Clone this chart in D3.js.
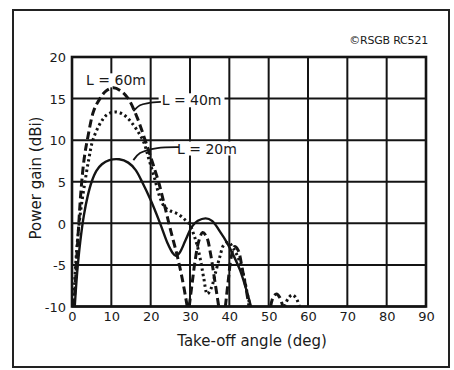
<!DOCTYPE html>
<html>
<head>
<meta charset="utf-8">
<script src="https://cdn.jsdelivr.net/npm/d3@7/dist/d3.min.js"></script>
<style>
  html, body { margin: 0; padding: 0; background: #fff; }
  svg { display: block; }
  text { font-family: "DejaVu Sans", sans-serif; fill: #1a1a1a; }
</style>
</head>
<body>
<svg id="chart" width="454" height="370"></svg>
<script>
// ---- data ----
const xTicks = [0, 10, 20, 30, 40, 50, 60, 70, 80, 90];
const yTicks = [-10, -5, 0, 5, 10, 15, 20];

// [take-off angle (deg), power gain (dBi)], null separates lobes
const gain20m = [
  [0.7,-10],[1.3,-6],[2.1,-2.2],[3,0.9],[4,3.3],[5,5],[6.2,6.3],[7.6,7.1],[9.5,7.6],[12,7.7],
  [14.3,7.3],[16.2,6.4],[17.8,5],[20,2.8],[22.4,0],[24.3,-2.4],[25.5,-3.5],[26.4,-3.9],
  [27.4,-3.5],[28.8,-2.1],[30.5,-0.4],[32,0.3],[34,0.6],[35.6,0.3],[37.5,-0.9],
  [39.5,-2.4],[41,-3.8],[42.7,-5.6],[44.2,-7.8],[45.5,-10]
];
const gain40m = [
  [0.4,-10],[0.8,-6],[1.4,-2],[2.2,1.5],[3.3,5],[4.3,7.8],[5.3,10],[7.4,12.2],[9,13.1],
  [11,13.4],[13,13.1],[15,12.2],[16.8,11],[18.2,9.8],[19.5,7.8],[21,5.4],[22.3,3.2],
  [23.5,2],[25,1.5],[27,1.1],[28.8,0.4],[30,-0.2],[31,-1.4],[31.8,-2.6],[32.7,-4.5],
  [33.5,-6.6],[34.4,-8.5],[35.4,-7.8],[36.5,-5.9],[37.6,-4],[38.6,-2.6],[39.8,-2.3],
  [41,-3],[42.3,-4.2],[43.5,-6],[44.6,-8.5],[45.3,-10],
  null,
  [54,-10],[55,-9],[56,-8.6],[57,-9],[57.8,-10]
];
const gain60m = [
  [0.5,-10],[1,-6],[1.6,-1],[2.3,4],[3.1,7.8],[4,10.3],[5.5,13.5],[7.1,15],[8.6,15.9],
  [10.5,16.3],[12.5,15.9],[14.3,15],[16.5,12.8],[18.6,10],[20.4,7.4],[22,5],[23.3,2.6],
  [25,-0.7],[26.7,-3.8],[28,-6.6],[29.3,-10],
  null,
  [29.8,-10],[30.6,-7],[31.3,-4.5],[32.2,-2.2],[33.2,-1.1],[34.2,-1.6],[35.2,-3.6],
  [36.2,-6.6],[37.3,-10],
  null,
  [39,-10],[39.7,-7],[40.5,-4],[41.3,-2.8],[42.2,-3.2],[43.3,-5.5],[44.3,-8],[45,-10],
  null,
  [50.5,-10],[51.2,-8.8],[52,-8.5],[52.8,-8.9],[53.6,-10]
];

const seriesLabels = ["L = 20m", "L = 40m", "L = 60m"];
// label anchor points [deg, dBi] (centre of text)
const labelPos = [[34.3, 9.0], [30.4, 14.8], [11.2, 17.2]];
// leader lines from label to its curve [deg, dBi]
const leader20 = [[27.2, 9.17], [21.7, 9.05], [17.3, 8.45], [15.6, 7.6]];
const leader40 = [[22.6, 14.6], [19.4, 14.46], [17.3, 14.2], [15.6, 13.5]];

const xTitle = "Take-off angle (deg)";
const yTitle = "Power gain (dBi)";
const credit = "\u00A9RSGB RC521";

// ---- drawing ----
const svg = d3.select("#chart");
const x = d3.scaleLinear().domain([0, 90]).range([72, 426]);
const y = d3.scaleLinear().domain([-10, 20]).range([306.5, 57]);
const ink = "#141414";

const gFrame = svg.append("g");
const gGrid = svg.append("g");
const gAxes = svg.append("g");
const gBoxes = svg.append("g");
const gCurves = svg.append("g");
const gLabels = svg.append("g");

// outer frame
gFrame.append("rect").attr("x", 13).attr("y", 10).attr("width", 436).attr("height", 357)
  .attr("fill", "none").attr("stroke", "#222").attr("stroke-width", 2);

// grid
gGrid.selectAll("line.v").data(xTicks).join("line").attr("class", "v")
  .attr("x1", d => x(d)).attr("x2", d => x(d))
  .attr("y1", y(-10)).attr("y2", y(20))
  .attr("stroke", ink).attr("stroke-width", 2);
gGrid.selectAll("line.h").data(yTicks).join("line").attr("class", "h")
  .attr("y1", d => y(d)).attr("y2", d => y(d))
  .attr("x1", x(0)).attr("x2", x(90))
  .attr("stroke", ink).attr("stroke-width", 2);

// axes (tick labels via d3 axes)
const xAxis = gAxes.append("g").attr("transform", `translate(0,${y(-10)})`)
  .call(d3.axisBottom(x).tickValues(xTicks).tickSize(0).tickPadding(5).tickFormat(d3.format("d")));
const yAxis = gAxes.append("g").attr("transform", `translate(${x(0)},0)`)
  .call(d3.axisLeft(y).tickValues(yTicks).tickSize(0).tickPadding(6).tickFormat(d => d < 0 ? "-" + Math.abs(d) : d));
[xAxis, yAxis].forEach(a => {
  a.select(".domain").remove();
  a.selectAll("text").attr("font-size", 13).attr("font-family", "DejaVu Sans, sans-serif").attr("fill", "#1a1a1a");
});
yAxis.selectAll("text").attr("dy", "0.36em");

// titles
gAxes.append("text").attr("x", 252).attr("y", 346).attr("text-anchor", "middle")
  .attr("font-size", 15).text(xTitle);
gAxes.append("text").attr("transform", `translate(41,178) rotate(-90)`)
  .attr("text-anchor", "middle").attr("font-size", 15).text(yTitle);
gAxes.append("text").attr("x", 428).attr("y", 44).attr("text-anchor", "end")
  .attr("font-size", 11).attr("letter-spacing", "-0.2").text(credit);

// series labels with white boxes masking gridlines
const labelTexts = gLabels.selectAll("text").data(seriesLabels).join("text")
  .attr("x", (d, i) => x(labelPos[i][0])).attr("y", (d, i) => y(labelPos[i][1]))
  .attr("text-anchor", "middle").attr("dy", "0.36em").attr("font-size", 14).text(d => d);
labelTexts.each(function () {
  const b = this.getBBox();
  gBoxes.append("rect").attr("x", b.x - 3).attr("y", b.y + 1)
    .attr("width", b.width + 6).attr("height", b.height - 2).attr("fill", "#fff");
});

// plot border
gGrid.append("rect").attr("x", x(0)).attr("y", y(20))
  .attr("width", x(90) - x(0)).attr("height", y(-10) - y(20))
  .attr("fill", "none").attr("stroke", ink).attr("stroke-width", 2.6);

// curves
svg.append("clipPath").attr("id", "plotclip").append("rect")
  .attr("x", x(0)).attr("y", y(20) - 10).attr("width", x(90) - x(0)).attr("height", y(-10) - y(20) + 10);
gCurves.attr("clip-path", "url(#plotclip)");
const line = d3.line().defined(d => d !== null)
  .x(d => x(d[0])).y(d => y(d[1])).curve(d3.curveCatmullRom.alpha(0.5));
gCurves.append("path").attr("d", line(gain20m)).attr("fill", "none")
  .attr("stroke", ink).attr("stroke-width", 2.4);
gCurves.append("path").attr("d", line(gain40m)).attr("fill", "none")
  .attr("stroke", ink).attr("stroke-width", 3).attr("stroke-dasharray", "2.4,3");
gCurves.append("path").attr("d", line(gain60m)).attr("fill", "none")
  .attr("stroke", ink).attr("stroke-width", 3).attr("stroke-dasharray", "8,4");

// leaders
const leaderLine = d3.line().x(d => x(d[0])).y(d => y(d[1])).curve(d3.curveCatmullRom.alpha(0.5));
[leader20, leader40].forEach(l => {
  gLabels.append("path").attr("d", leaderLine(l)).attr("fill", "none")
    .attr("stroke", ink).attr("stroke-width", 1.8);
});
</script>
</body>
</html>
